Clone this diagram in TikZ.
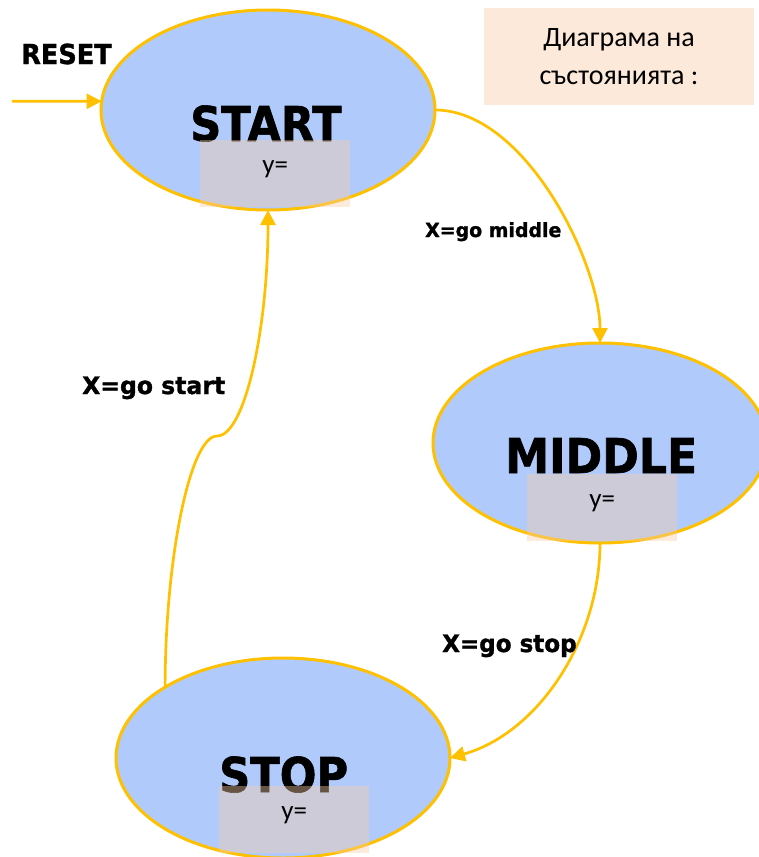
\documentclass[tikz,border=0pt]{standalone}
\usepackage{fontspec}
\setmainfont{DejaVu Sans}[BoldFeatures={FakeBold=1.3}]
\newfontfamily\calib{Carlito}
\usetikzlibrary{shapes.geometric,arrows.meta}
\definecolor{stateblue}{HTML}{B0CBFB}
\definecolor{gold}{HTML}{FFC000}
\definecolor{peach}{HTML}{FCE9DA}
\definecolor{veil}{RGB}{247,204,165}
\begin{document}
\begin{tikzpicture}[x=1pt,y=-1pt,
  state/.style={ellipse, draw=gold, line width=3pt, fill=stateblue,
    minimum width=334pt, minimum height=200pt, inner sep=0pt, outer sep=0pt},
  statename/.style={font=\bfseries\fontsize{48}{48}\selectfont, inner sep=0pt, anchor=base west},
  outbox/.style={fill=veil, fill opacity=0.41, text opacity=1, inner sep=0pt,
    minimum width=150pt, text width=150pt, align=center,
    text height=33.6pt, text depth=33.4pt, anchor=north west,
    font=\calib\fontsize{27}{27}\selectfont},
  translabel/.style={inner sep=0pt, anchor=base west},
  conn/.style={draw=gold, line width=2.7pt, -{Triangle[length=15pt,width=15pt]}, fill=none}
]
\useasboundingbox (0,0) rectangle (758,857);

% title box
\node[fill=peach, minimum width=270pt, minimum height=97pt, inner sep=0pt, align=center,
  font=\calib\fontsize{28}{38}\selectfont] (title) at (619,56.5) {Диаграма на\\състоянията :};

% states
\node[state] (start) at (268,110) {};
\node[state] (middle) at (600,443) {};
\node[state] (stop) at (283,758) {};

\node[statename] (startname) at (190,141) {\scalebox{0.9}[1]{START}};
\node[statename] (middlename) at (505,473) {\scalebox{0.92}[1]{MIDDLE}};
\node[statename] (stopname) at (219,792) {\scalebox{0.9}[1]{STOP}};

% reset
\node[translabel, font=\bfseries\fontsize{27.5}{27.5}\selectfont] (resetlabel) at (21,64) {\scalebox{0.93}[1]{RESET}};
\coordinate (reset) at (12,101.3);
\coordinate (kink) at (217,436);

% connectors
\draw[conn] (reset) -- (start.177);
\draw[conn] (start.east) .. controls +(90,0) and +(0,-80) .. (middle.north);
\draw[conn] (middle.south) .. controls +(0,97) and +(88,-25) .. (stop.east);
\draw[conn] (stop.149) .. controls +(0,-128) and +(-27,0) .. (kink)
  .. controls +(28,0) and +(0,118) .. (start.south);

% transition labels
\node[translabel, font=\bfseries\fontsize{19.5}{19.5}\selectfont] (lmiddle) at (425,237) {\scalebox{0.97}[1]{X=go middle}};
\node[translabel, font=\bfseries\fontsize{24}{24}\selectfont] (lstart) at (82,394) {\scalebox{0.98}[1]{X=go start}};
\node[translabel, font=\bfseries\fontsize{24}{24}\selectfont] (lstop) at (442,652) {\scalebox{0.96}[1]{X=go stop}};

% output boxes (semi-transparent)
\node[outbox] (starty) at (200,140) {y=};
\node[outbox] (middley) at (527,474) {y=};
\node[outbox] (stopy) at (219,786) {y=};
\end{tikzpicture}
\end{document}
